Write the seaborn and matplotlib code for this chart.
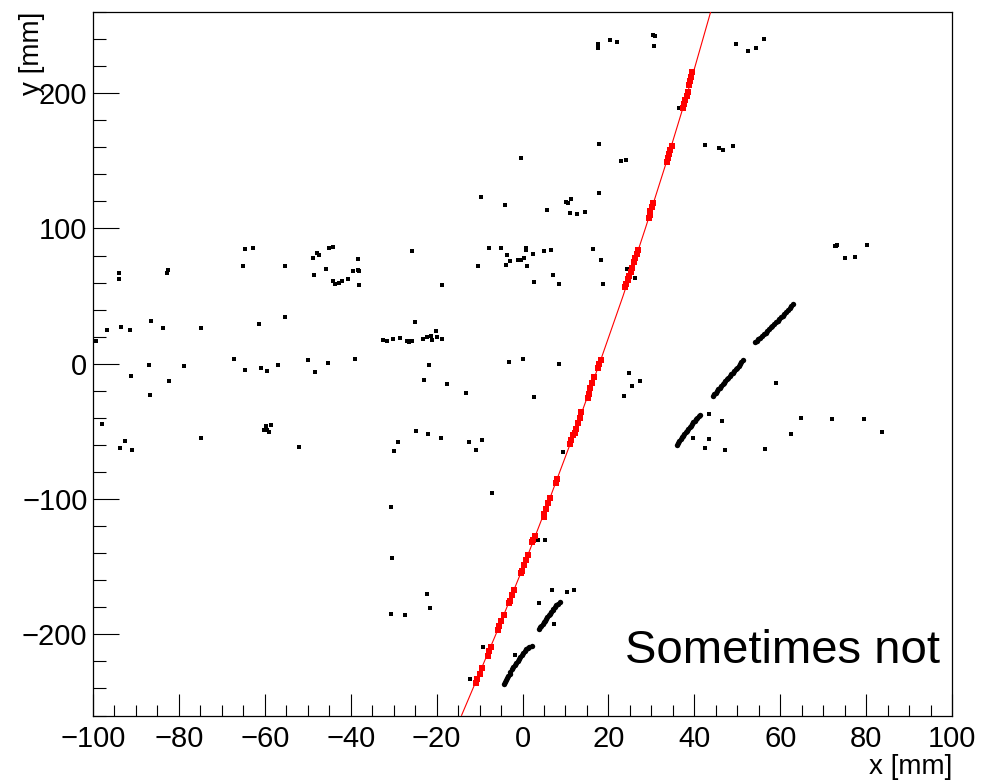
import numpy as np
import pandas as pd
import matplotlib
matplotlib.use("Agg")
import matplotlib.pyplot as plt
from matplotlib.ticker import MultipleLocator
import seaborn as sns

# ---- hits not assigned to the fitted track (x, y in mm) ----
hit_x = [
    17.6, 17.6, 20.4, 22.1, 30.3, 30.9, 30.6,
    49.7, 52.4, 54.4, 56.3,
    17.9, -0.35, 22.9, 24.0,
    42.4, 45.8, 46.6, 49.1,
    -9.7, -4.1, 5.8, 10.1, 10.5, 11.3,
    11.1, 12.6, 14.6, 17.9,
    36.4,
    73.0, 73.3, 72.8, 80.3, 75.0, 77.3,
    -25.8, -64.7, -62.7, -65.1, -55.2, -93.9, -93.9,
    -82.8, -82.5, -48.8, -47.9, -47.4, -45.0, -44.2,
    -48.6, -45.8, -44.2, -43.6, -42.7, -42.0, -40.7,
    -39.5, -38.4, -38.1, -38.4, -38.1,
    -96.7, -99.3, -93.5, -91.4, -86.4, -83.7, -74.8,
    -61.3, -55.4, -25.1,
    -32.4, -31.5, -30.1, -28.5, -26.8, -26.4, -25.7,
    -87.0, -91.1, -78.7, -82.3, -86.7, -67.2, -64.7,
    -61.0, -59.4, -56.9, -50.0, -48.3, -45.3, -38.9,
    -98.0, -92.5, -93.6, -90.9, -74.8,
    -59.7, -58.5, -60.3, -59.6, -59.1, -52.1,
    -29.9, -29.0, -24.9,
    -7.7, -5.0, -10.3, -18.8,
    -3.7, 0.8, 0.8, 2.5, 5.1, 6.6,
    -3.9, -2.9, -1.0, -0.35, 0.3, 1.0, 2.7,
    7.1, 8.6, 16.5, 18.2, 18.7, 26.3, 24.3,
    -20.2,
    -28.5, -26.6, -25.8, -23.1, -22.3, -21.0, -20.0, -18.7, -21.3,
    -21.8, -22.9, -17.6, -13.2, -3.1, 0.0, 8.6, 2.7,
    24.8, 27.4, 25.6, 23.7,
    -22.1, -19.0, -12.5, -9.4, -10.8, 9.4,
    43.4, 46.4, 39.8, 43.4, 42.5, 47.1,
    59.0, 64.8, 72.0, 79.6, 83.6, 62.4, 56.5,
    6.8, 10.4, 12.0, 3.8, 7.3, -1.7,
    3.7, 5.2, -7.2, -30.6, -30.4, -30.7, -27.4,
    -22.3, -21.5, -9.1, -12.2,
]
hit_y = [
    236.7, 233.5, 239.2, 237.5, 243.1, 242.1, 235.0,
    236.7, 231.1, 233.5, 239.9,
    162.5, 152.2, 150.0, 150.7,
    161.8, 159.6, 157.9, 161.0,
    123.6, 117.2, 114.0, 119.6, 118.7, 121.9,
    111.5, 110.8, 111.8, 126.1,
    189.1,
    87.4, 88.0, 86.8, 87.6, 78.2, 79.0,
    83.0, 84.7, 85.6, 72.6, 71.9, 67.1, 63.0,
    67.4, 69.6, 78.2, 82.2, 80.7, 85.4, 86.4,
    65.7, 70.1, 60.8, 59.3, 60.0, 60.8, 62.3,
    68.6, 69.1, 68.6, 77.3, 58.3,
    24.8, 16.9, 27.0, 24.8, 31.4, 26.5, 26.5,
    29.4, 34.4, 30.5,
    17.9, 16.9, 18.3, 19.1, 16.6, 16.1, 16.9,
    -0.6, -8.7, -1.6, -12.7, -23.1, 3.3, -4.8,
    -3.1, -5.3, -0.6, 2.6, -6.3, 0.9, 3.5,
    -44.5, -57.1, -62.0, -63.4, -54.9,
    -46.2, -45.2, -49.2, -49.2, -50.6, -61.2,
    -64.5, -58.0, -49.9,
    85.4, 85.4, 72.6, 58.3,
    80.4, 85.6, 83.9, 81.2, 83.7, 84.4,
    73.0, 75.8, 76.5, 76.5, 78.2, 72.6, 60.5,
    65.4, 59.3, 84.7, 76.5, 59.3, 63.7, 70.4,
    24.3,
    19.4, 16.6, 16.9, 18.3, 19.6, 17.4, 19.8, 18.6, 20.3,
    -0.6, -12.0, -15.2, -21.6, 1.6, 3.3, 0.1, -24.5,
    -7.0, -12.7, -16.6, -23.8,
    -51.6, -54.9, -58.0, -56.6, -63.7, -65.2,
    -37.3, -42.3, -54.9, -55.6, -62.0, -63.7,
    -14.2, -39.8, -40.5, -40.5, -50.1, -51.6, -63.0,
    -167.0, -168.7, -167.0, -176.9, -192.6, -215.5,
    -130.0, -130.5, -95.5, -105.9, -143.3, -184.7, -185.4,
    -170.4, -180.5, -209.4, -232.8,
]

# ---- hits along the second (unfitted) tracks ----
seg_x = [
    35.9, 36.2, 36.5, 36.8, 37.1, 37.4, 37.7, 38.0, 38.3, 38.6, 38.9, 39.2,
    39.5, 39.8, 40.1, 40.4, 40.7, 41.0, 41.3,
    44.4, 44.7, 45.0, 45.3, 45.6, 45.9, 46.3, 46.6, 46.9, 47.2, 47.5, 47.8,
    48.2, 48.5, 48.9, 49.2, 49.6, 49.9, 50.3, 50.6, 50.9, 51.4,
    54.1, 54.5, 54.9, 55.3, 55.8, 56.2, 56.6, 57.0, 57.4, 57.8, 58.2, 58.6,
    59.0, 59.4, 59.8, 60.2, 60.6, 61.0, 61.4, 61.8, 62.2, 62.6, 63.0,
    -4.3, -4.0, -3.8, -3.5, -3.3, -3.0, -2.8, -2.4, -2.1, -1.8, -1.5, -1.1,
    -0.8, -0.5, -0.2, 0.2, 0.5, 0.9, 1.2, 1.6, 2.1,
    3.9, 4.1, 4.4, 4.7, 5.0, 5.3, 5.5, 5.8, 6.1, 6.4, 6.7, 7.0, 7.2, 7.5,
    7.8, 8.2, 8.7,
]
seg_y = [
    -59.7, -58.4, -57.0, -55.8, -54.5, -53.2, -52.0, -50.8, -49.5, -48.2, -47.0, -45.8,
    -44.5, -43.2, -42.0, -40.9, -39.8, -38.7, -37.6,
    -23.5, -22.5, -21.5, -20.2, -19.0, -17.8, -16.5, -15.2, -14.0, -12.8, -11.5, -10.2,
    -9.0, -7.8, -6.5, -5.2, -4.0, -2.8, -1.5, -0.2, 1.0, 2.6,
    16.1, 17.0, 18.0, 19.2, 20.5, 21.8, 23.0, 24.2, 25.5, 26.8, 28.0, 29.2,
    30.5, 31.8, 33.0, 34.2, 35.5, 37.0, 38.5, 40.0, 41.5, 43.0, 44.5,
    -236.4, -235.0, -233.5, -232.0, -230.5, -229.0, -227.5, -225.8, -224.0, -222.5,
    -221.0, -219.5, -218.0, -216.5, -215.0, -213.5, -212.0, -211.0, -210.0, -209.5, -208.9,
    -195.8, -194.7, -193.5, -192.2, -191.0, -189.8, -188.5, -187.2, -186.0, -184.8,
    -183.5, -182.2, -181.0, -179.8, -178.5, -177.3, -176.1,
]

# ---- hits assigned to the fitted track ----
fit_hit_x = [
    39.5, 39.3, 39.0, 38.7,
    38.5, 38.2, 37.9, 37.6, 37.3,
    34.7, 34.4, 34.1, 33.8, 33.6,
    30.4, 30.1, 29.8, 29.6, 29.4,
    26.9, 26.6, 26.3, 26.0,
    25.5, 25.2, 24.9, 24.6,
    24.6, 24.2, 23.9,
    18.2, 17.9, 17.6,
    16.6, 16.2, 15.8, 15.5, 15.2,
    13.7, 13.3, 12.9, 12.5, 12.2,
    11.7, 11.4, 11.1,
    8.0, 7.8,
    6.3, 5.9, 5.5, 5.1, 4.9,
    2.9, 2.5, 2.3,
    1.3, 0.8, 0.3, -0.2, -0.4,
    -2.0, -2.5, -3.0, -3.2,
    -4.4, -4.9, -5.4, -5.8,
    -7.3, -7.7, -8.1,
    -9.5, -10.0, -10.5, -10.9,
]
fit_hit_y = [
    216, 212, 209, 206,
    201, 198, 195, 192, 189,
    161, 158, 155, 152, 149,
    119, 116, 113, 110, 108,
    84, 81, 78, 75,
    71, 68, 65, 63,
    62, 59, 57,
    3, 0, -3,
    -10, -14, -18, -22, -25,
    -36, -40, -44, -48, -51,
    -53, -56, -59,
    -85, -88,
    -99, -103, -107, -111, -113,
    -127, -130, -132,
    -141, -145, -149, -153, -155,
    -167, -171, -175, -177,
    -186, -190, -194, -197,
    -209, -212, -216,
    -225, -229, -233, -236,
]

# ---- fitted track curve ----
track_y = [-260, -200, -150, -100, -50, 0, 50, 100, 150, 200, 260]
track_x = [-14.2, -6.2, 0.2, 6.3, 12.2, 17.9, 23.4, 28.6, 33.6, 38.4, 43.8]

x_range = (-100, 100)
y_range = (-260, 260)

sns.set_style("white")
plt.rcParams["font.family"] = ["Liberation Sans", "DejaVu Sans"]
plt.rcParams["axes.unicode_minus"] = True
plt.rcParams["text.color"] = "black"
plt.rcParams["axes.labelcolor"] = "black"
plt.rcParams["xtick.color"] = "black"
plt.rcParams["ytick.color"] = "black"

fig = plt.figure(figsize=(9.82, 7.80), dpi=100)
ax = fig.add_axes([93 / 982, 1 - 715.5 / 780, 859 / 982, 703.5 / 780])

hits = pd.DataFrame({"x": hit_x, "y": hit_y})
seg_hits = pd.DataFrame({"x": seg_x, "y": seg_y})
fit_hits = pd.DataFrame({"x": fit_hit_x, "y": fit_hit_y})
track = pd.DataFrame({"x": track_x, "y": track_y})

sns.scatterplot(data=hits, x="x", y="y", ax=ax, color="black", marker="s",
                s=6.5, linewidth=0, legend=False, zorder=3)
sns.scatterplot(data=seg_hits, x="x", y="y", ax=ax, color="black", marker="o",
                s=15, linewidth=0, legend=False, zorder=3)
sns.scatterplot(data=fit_hits, x="x", y="y", ax=ax, color="#ff0000", marker="s",
                s=22, linewidth=0, legend=False, zorder=4)
sns.lineplot(data=track, x="x", y="y", ax=ax, orient="y", estimator=None,
             color="#ff0000", linewidth=0.8, zorder=5)

ax.set_xlim(*x_range)
ax.set_ylim(*y_range)

ax.xaxis.set_major_locator(MultipleLocator(20))
ax.xaxis.set_minor_locator(MultipleLocator(5))
ax.yaxis.set_major_locator(MultipleLocator(100))
ax.yaxis.set_minor_locator(MultipleLocator(20))

ax.tick_params(axis="x", which="major", direction="in", length=15.8, width=0.8,
               labelsize=21, pad=7, bottom=True, top=False)
ax.tick_params(axis="x", which="minor", direction="in", length=7.9, width=0.8,
               bottom=True, top=False)
ax.tick_params(axis="y", which="major", direction="in", length=18.7, width=0.8,
               labelsize=21, pad=4, left=True, right=False)
ax.tick_params(axis="y", which="minor", direction="in", length=9.4, width=0.8,
               left=True, right=False)

for sp in ax.spines.values():
    sp.set_color("black")
    sp.set_linewidth(0.9)

ax.set_xlabel("x [mm]", fontsize=20, loc="right")
ax.xaxis.set_label_coords(1.0, -0.055)
ax.xaxis.label.set_va("top")

ax.set_ylabel("y [mm]", fontsize=20, loc="top")
ax.yaxis.set_label_coords(-0.056, 1.0)

ax.text(0.986, 0.0753, "Sometimes not", transform=ax.transAxes,
        ha="right", va="baseline", fontsize=34, color="black")

fig.savefig("out.png", dpi=100)
